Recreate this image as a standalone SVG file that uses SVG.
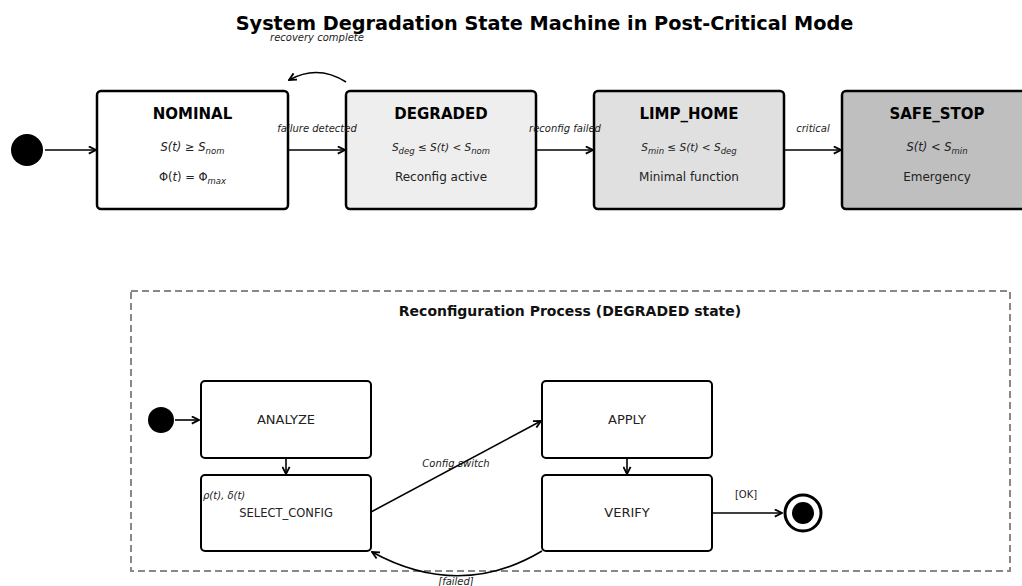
<svg xmlns="http://www.w3.org/2000/svg" width="1022" height="586" viewBox="0 0 1022 586">
  <defs>
    <marker id="arr" viewBox="0 0 10 10" refX="9" refY="5" markerWidth="9" markerHeight="9" markerUnits="userSpaceOnUse" orient="auto">
      <path d="M1,1 L9,5 L1,9" fill="none" stroke="#000" stroke-width="2"/>
    </marker>
    <style>
      text { font-family: "DejaVu Sans", "Liberation Sans", sans-serif; fill: #111; }
      .title { font-size: 19.3px; font-weight: bold; text-anchor: middle; fill: #000; }
      .state rect { stroke: #000; stroke-width: 2.5; }
      .sub rect { fill: #fff; stroke: #000; stroke-width: 2; }
      .name { font-size: 15px; font-weight: bold; text-anchor: middle; fill: #000; }
      .math { font-size: 11.5px; font-style: italic; text-anchor: middle; fill: #222; }
      .math .up { font-style: normal; }
      .sb { font-size: 8.5px; }
      .desc { font-size: 12px; text-anchor: middle; fill: #222; }
      .lbl { font-size: 10px; font-style: italic; text-anchor: middle; fill: #222; }
      .plain { font-size: 10px; text-anchor: middle; fill: #222; }
      .subname { font-size: 13px; text-anchor: middle; fill: #222; }
      .edge { fill: none; stroke: #000; stroke-width: 1.6; marker-end: url(#arr); }
    </style>
  </defs>
  <rect width="1022" height="586" fill="#fff"/>

  <text class="title" x="544.5" y="30">System Degradation State Machine in Post-Critical Mode</text>

  <!-- top-level states -->
  <g id="initial-top"><circle cx="27" cy="150" r="16" fill="#000"/></g>

  <g id="nominal" class="state">
    <rect x="97" y="91" width="191" height="118" rx="4" fill="#fff"/>
    <text class="name" x="192.5" y="119">NOMINAL</text>
    <text class="math" x="192.5" y="151">S(t) <tspan class="up">≥</tspan> S<tspan class="sb" dy="2.5">nom</tspan></text>
    <text class="math" x="192.5" y="181"><tspan class="up">Φ(</tspan>t<tspan class="up">) = Φ</tspan><tspan class="sb" dy="2.5">max</tspan></text>
  </g>

  <g id="degraded" class="state">
    <rect x="346" y="91" width="190" height="118" rx="4" fill="#eeeeee"/>
    <text class="name" x="441" y="119">DEGRADED</text>
    <text class="math" x="441" y="151" style="font-size:10.5px">S<tspan class="sb" dy="2.5">deg</tspan><tspan dy="-2.5"> </tspan><tspan class="up">≤</tspan> S(t) <tspan class="up">&lt;</tspan> S<tspan class="sb" dy="2.5">nom</tspan></text>
    <text class="desc" x="441" y="181">Reconfig active</text>
  </g>

  <g id="limp-home" class="state">
    <rect x="594" y="91" width="190" height="118" rx="4" fill="#e0e0e0"/>
    <text class="name" x="689" y="119">LIMP_HOME</text>
    <text class="math" x="689" y="151" style="font-size:10.5px">S<tspan class="sb" dy="2.5">min</tspan><tspan dy="-2.5"> </tspan><tspan class="up">≤</tspan> S(t) <tspan class="up">&lt;</tspan> S<tspan class="sb" dy="2.5">deg</tspan></text>
    <text class="desc" x="689" y="181">Minimal function</text>
  </g>

  <g id="safe-stop" class="state">
    <rect x="842" y="91" width="190" height="118" rx="4" fill="#bfbfbf"/>
    <text class="name" x="937" y="119">SAFE_STOP</text>
    <text class="math" x="937" y="151">S(t) <tspan class="up">&lt;</tspan> S<tspan class="sb" dy="2.5">min</tspan></text>
    <text class="desc" x="937" y="181">Emergency</text>
  </g>

  <!-- reconfiguration sub-process -->
  <g id="reconfig-frame">
    <rect x="131" y="291" width="879" height="280" fill="none" stroke="#888" stroke-width="2" stroke-dasharray="7,4"/>
    <text x="570" y="316" style="font-size:14px;font-weight:bold;text-anchor:middle">Reconfiguration Process (DEGRADED state)</text>
  </g>

  <g id="initial-sub"><circle cx="161" cy="420" r="13" fill="#000"/></g>

  <g id="analyze" class="sub">
    <rect x="201" y="381" width="170" height="77" rx="4"/>
    <text class="subname" x="286" y="424">ANALYZE</text>
  </g>

  <g id="select-config" class="sub">
    <rect x="201" y="475" width="170" height="76" rx="4"/>
    <text class="subname" x="286" y="517" style="font-size:11.5px">SELECT_CONFIG</text>
    <text x="203" y="499" style="font-size:10px;font-style:italic;fill:#222">ρ(t), δ(t)</text>
  </g>

  <g id="apply" class="sub">
    <rect x="542" y="381" width="170" height="77" rx="4"/>
    <text class="subname" x="627" y="424">APPLY</text>
  </g>

  <g id="verify" class="sub">
    <rect x="542" y="475" width="170" height="76" rx="4"/>
    <text class="subname" x="627" y="517">VERIFY</text>
  </g>

  <g id="final-sub">
    <circle cx="803" cy="513" r="18" fill="#fff" stroke="#000" stroke-width="3"/>
    <circle cx="803" cy="513" r="11" fill="#000"/>
  </g>

  <!-- transitions -->
  <g id="connectors">
    <path class="edge" d="M45,150 L96,150"/>
    <path class="edge" d="M289,150 L345,150"/>
    <text class="lbl" x="317" y="132">failure detected</text>
    <path class="edge" d="M537,150 L593,150"/>
    <text class="lbl" x="565" y="132">reconfig failed</text>
    <path class="edge" d="M785,150 L841,150"/>
    <text class="lbl" x="813" y="132">critical</text>
    <path class="edge" d="M346,82 Q318,64 289,80"/>
    <text class="lbl" x="317" y="41">recovery complete</text>

    <path class="edge" d="M175,420 L199,420"/>
    <path class="edge" d="M286,458 L286,474"/>
    <path class="edge" d="M627,458 L627,474"/>
    <path class="edge" d="M371,512 L541,421"/>
    <text class="lbl" x="456" y="467">Config switch</text>
    <path class="edge" d="M712,513 L782,513"/>
    <text class="plain" x="746" y="498">[OK]</text>
    <path class="edge" d="M542,551 Q460,600 372,552"/>
    <text class="lbl" x="456" y="585">[failed]</text>
  </g>
</svg>
